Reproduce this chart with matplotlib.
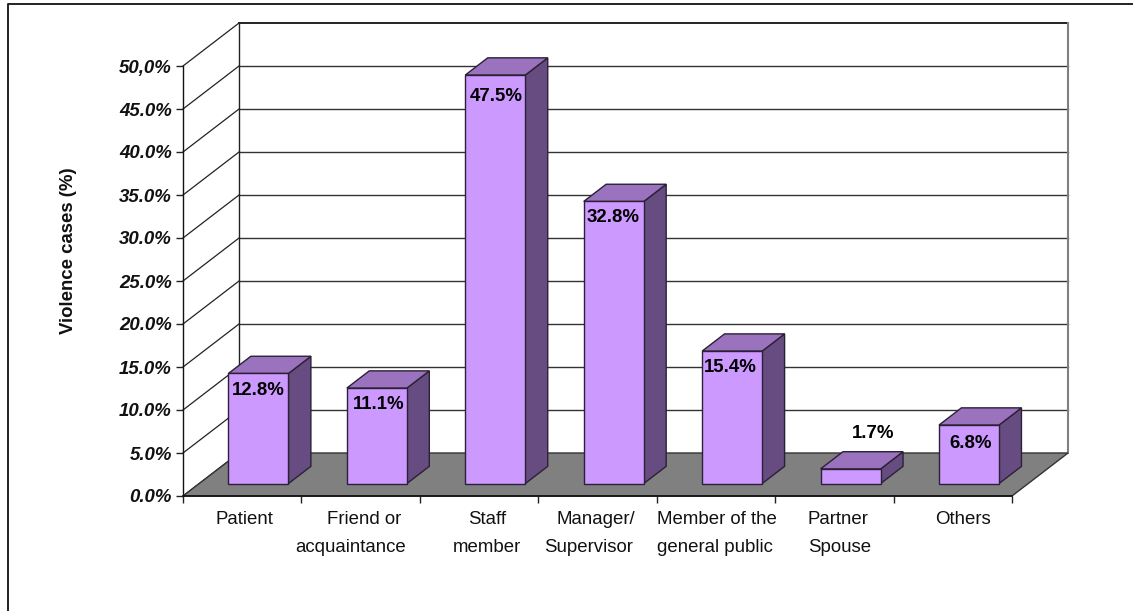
"""3D-look bar chart of violence cases by perpetrator, drawn on a flat axes."""
import matplotlib
matplotlib.use("Agg")
import matplotlib.pyplot as plt
from matplotlib.lines import Line2D

plt.rcParams["font.family"] = ["Liberation Sans", "DejaVu Sans"]

values = [12.8, 11.1, 47.5, 32.8, 15.4, 1.7, 6.8]
value_labels = ["12.8%", "11.1%", "47.5%", "32.8%", "15.4%", "1.7%", "6.8%"]
cat_line1 = ["Patient", "Friend or", "Staff", "Manager/", "Member of the", "Partner", "Others"]
cat_line2 = ["", "acquaintance", "member", "Supervisor", "general public", "Spouse", ""]
y_ticks = [0, 5, 10, 15, 20, 25, 30, 35, 40, 45, 50]
y_tick_labels = ["0.0%", "5.0%", "10.0%", "15.0%", "20.0%", "25.0%", "30.0%",
                 "35.0%", "40.0%", "45.0%", "50,0%"]

# fake depth, in data units
DX, DY = 0.473, 5.0
BAR_W = 0.507
D0, D1 = 0.29, 0.69
FS = 13.4


def proj(x, v, d):
    return x + DX * d, v + DY * d


def poly(ax, pts, color, z, edge="#2b2136"):
    xs = [p[0] for p in pts]
    ys = [p[1] for p in pts]
    ax.fill(xs, ys, facecolor=color, edgecolor=edge, lw=1.0, clip_on=False, zorder=z)


fig = plt.figure(figsize=(11.33, 6.11), dpi=100)
ax = fig.add_axes([183 / 1133, 115 / 611, 829 / 1133, 430 / 611])
ax.set_xlim(0, 7)
ax.set_ylim(0, 50)
for s in ax.spines.values():
    s.set_visible(False)
ax.patch.set_visible(False)

# chart frame, only top and left are visible
fig.add_artist(Line2D([7.5 / 1133, 7.5 / 1133, 1], [0, 1 - 4 / 611, 1 - 4 / 611], color="#222222", lw=1.4))

# walls
for v in y_ticks:
    x0, y0 = proj(0, v, 1)
    x1, y1 = proj(7, v, 1)
    ax.plot([0, x0], [v, y0], color="#222222", lw=0.9, clip_on=False, zorder=1)
    if v > 0:
        ax.plot([x0, x1], [y0, y1], color="#222222" if v == 50 else "#333333",
                lw=1.4 if v == 50 else 1.0, clip_on=False, zorder=1)
ax.plot([DX, DX], [DY, 50 + DY], color="#222222", lw=1.0, clip_on=False, zorder=1)
ax.plot([7 + DX, 7 + DX], [DY, 50 + DY], color="#808080", lw=1.5, clip_on=False, zorder=1)
ax.plot([0, 0], [0, 50], color="#111111", lw=1.0, clip_on=False, zorder=1)

# floor
poly(ax, [(0, 0), (7, 0), proj(7, 0, 1), proj(0, 0, 1)], "#808080", 2, edge="#333333")
ax.plot([0, 7], [0, 0], color="#111111", lw=1.2, clip_on=False, zorder=3)

# bars
for i, v in enumerate(values):
    xl = i + 0.5 - BAR_W / 2
    xr = xl + BAR_W
    front = [proj(xl, 0, D0), proj(xr, 0, D0), proj(xr, v, D0), proj(xl, v, D0)]
    side = [proj(xr, 0, D0), proj(xr, 0, D1), proj(xr, v, D1), proj(xr, v, D0)]
    top = [proj(xl, v, D0), proj(xr, v, D0), proj(xr, v, D1), proj(xl, v, D1)]
    z = 4 + i
    poly(ax, side, "#664C80", z)
    poly(ax, top, "#9A72BE", z)
    poly(ax, front, "#CC99FF", z)

# value labels, nudged like the original
label_dx = [0, 2, 1, -1, -2, 23, 2]
label_dy = [-17, -16, -21, -16, -16, 35, -18]
for i, v in enumerate(values):
    x, y = proj(i + 0.5, v, D0)
    ax.annotate(value_labels[i], xy=(x, y), xytext=(label_dx[i], label_dy[i]),
                textcoords="offset pixels", ha="center", va="center",
                fontsize=FS, fontweight="bold", color="black", zorder=20)

ax.set_yticks(y_ticks)
ax.set_yticklabels(y_tick_labels, fontsize=FS, fontweight="bold", fontstyle="italic", color="#111111")
ax.set_xticks(range(8))
ax.set_xticklabels([])
ax.tick_params(axis="both", length=5, width=1.0, color="#222222", pad=3)
ax.set_ylabel("Violence cases (%)", fontsize=FS, fontweight="bold", color="#111111")
ax.yaxis.set_label_coords(-106 / 829, 245 / 430)

# category labels are two separate lines, not centred on each other
line1_dx = [2, 3, 8, -2, 1, 4, 10]
line2_dx = [0, -10, 8, -9, -1, 5, 0]
for i in range(7):
    ax.annotate(cat_line1[i], xy=(i + 0.5, 0), xytext=(line1_dx[i], -24), textcoords="offset pixels",
                ha="center", va="center", fontsize=FS, color="#111111")
    ax.annotate(cat_line2[i], xy=(i + 0.5, 0), xytext=(line2_dx[i], -51), textcoords="offset pixels",
                ha="center", va="center", fontsize=FS, color="#111111")

plt.savefig("out.png", dpi=100)
